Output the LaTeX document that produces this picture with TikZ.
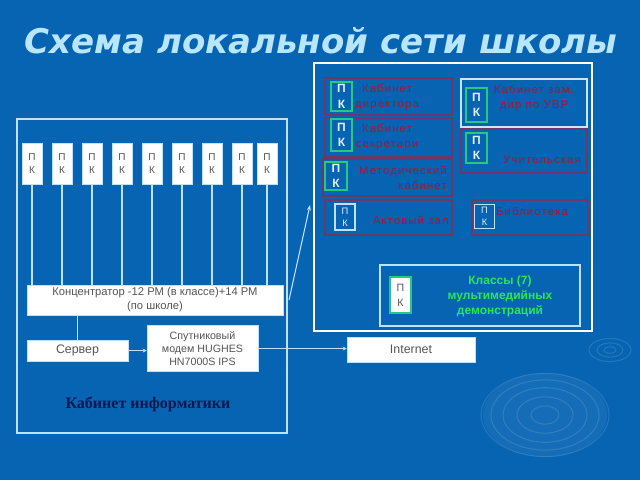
\documentclass[tikz,border=0pt]{standalone}
\usepackage{fontspec}
\setmainfont{Liberation Sans}
\newfontfamily\titlefont{DejaVu Sans}
\newfontfamily\roomfont[LetterSpace=10]{Liberation Sans}
\newfontfamily\serifbold{Liberation Serif}
\usetikzlibrary{positioning,arrows.meta}

\definecolor{bgblue}{RGB}{6,100,178}
\definecolor{titleblue}{RGB}{185,230,255}
\definecolor{wireblue}{RGB}{190,225,255}
\definecolor{textgray}{RGB}{85,85,85}
\definecolor{roomline}{RGB}{110,55,105}
\definecolor{roomred}{RGB}{155,25,60}
\definecolor{pcgreen}{RGB}{40,200,130}
\definecolor{pctext}{RGB}{225,240,255}
\definecolor{classgreen}{RGB}{40,230,90}
\definecolor{navy}{RGB}{10,25,80}

\tikzset{
  sz/.style 2 args={minimum width=#1*0.75pt, minimum height=#2*0.75pt},
  wire/.style={draw=wireblue, line width=0.8pt},
  pcbox/.style={draw=wireblue, fill=white, text=textgray, inner sep=0pt, align=center,
    font=\fontsize{7.5}{10}\selectfont},
  whitebox/.style={draw=wireblue, fill=white, text=textgray, inner sep=0pt, align=center,
    font=\fontsize{8}{10}\selectfont},
  room/.style={draw=roomline, line width=0.8pt, inner sep=0pt},
  roompc/.style={draw=pcgreen, line width=0.9pt, inner sep=0pt, align=center, text=pctext,
    font=\fontsize{9}{11.5}\selectfont\bfseries},
  roomtext/.style={text=roomred, inner sep=0pt, font=\roomfont\fontsize{8.5}{11.5}\selectfont},
  ripple/.style={white, opacity=0.12, line width=0.8pt},
}

\begin{document}
\begin{tikzpicture}[x=0.75pt,y=-0.75pt]
  \useasboundingbox (0,0) rectangle (640,480);

  % --- фон ---
  \fill[bgblue] (0,0) rectangle (640,480);
  \begin{scope}
    \clip (0,0) rectangle (640,480);
    \fill[white, opacity=0.06] (545,415) ellipse (62 and 42);
    \foreach \r in {14,28,42,54,64} {
      \draw[ripple] (545,415) ellipse ({\r} and {\r*0.65});
    }
    \foreach \r in {6,13,21} {
      \draw[ripple] (610,350) ellipse ({\r} and {\r*0.55});
    }
  \end{scope}

  % --- заголовок ---
  \node[text=titleblue, font=\titlefont\fontsize{25.5}{30}\selectfont\bfseries\itshape]
    (title) at (321,41) {Схема локальной сети школы};

  % --- кабинет информатики ---
  \node[draw=wireblue, line width=0.9pt, sz={270}{314}] (inf) at (152,276) {};
  \foreach \x [count=\i] in {32,62,92,122,152,182,212,242,267} {
    \node[pcbox, sz={20}{41}] (pc\i) at (\x,163.5) {П\\К};
  }
  \node[whitebox, sz={256}{30}, font=\fontsize{8.4}{10.5}\selectfont] (hub) at (155,300)
    {Концентратор -12 РМ (в классе)+14 РМ\\(по школе)};
  \foreach \i in {1,...,9} {
    \draw[wire] (pc\i.south) -- (pc\i.south |- hub.north);
  }
  \node[whitebox, sz={101}{21}, font=\fontsize{9.3}{10}\selectfont] (server) at (77.5,350.5) {Сервер};
  \node[whitebox, sz={111}{46}] (modem) at (202.5,348.5)
    {Спутниковый\\модем HUGHES\\HN7000S IPS};
  \node[whitebox, sz={128}{25}, font=\fontsize{9.3}{10}\selectfont] (inet) at (411,349.5) {Internet};
  \draw[wire] (server.north |- hub.south) -- (server.north);
  \draw[wire, -{Stealth[length=3pt,width=3pt]}] (server.east) -- (server.east -| modem.west);
  \draw[wire, -{Stealth[length=3pt,width=3pt]}] (modem.east) -- (modem.east -| inet.west);
  \node[text=navy, font=\serifbold\fontsize{12}{14}\selectfont\bfseries] (infname) at (148,404)
    {Кабинет информатики};

  % связь с остальной школой
  \coordinate (linkA) at (289,300);
  \coordinate (linkB) at (310,205);
  \draw[wire, -{Stealth[length=4pt,width=3pt]}] (linkA) -- (linkB);

  % --- остальные кабинеты ---
  \node[draw=white, line width=1.6pt, sz={278}{268}] (school) at (453,197) {};

  \node[room, sz={127}{37}] (dir) at (388.5,96.5) {};
  \node[roompc, sz={21}{29}] (dirpc) at (341.5,96.5) {П\\К};
  \node[roomtext, align=center] at (387,97) {Кабинет\\директора};

  \node[room, sz={127}{39}] (sec) at (388.5,137.5) {};
  \node[roompc, sz={21}{32}] (secpc) at (341.5,135) {П\\К};
  \node[roomtext, align=center] at (387,137) {Кабинет\\секретари};

  \node[room, sz={129}{37}] (met) at (387.5,177.5) {};
  \node[roompc, sz={22}{28}] (metpc) at (336,176) {П\\К};
  \node[roomtext, align=right, anchor=east] at (447,178) {Методический\\кабинет};

  \node[room, sz={127}{35}] (akt) at (388.5,217.5) {};
  \node[roompc, draw=wireblue, font=\fontsize{7}{9}\selectfont, sz={20}{26}] (aktpc) at (345,217) {П\\К};
  \node[roomtext, anchor=east] at (449,220) {Актовый зал};

  \node[room, sz={116}{35}] (lib) at (530,217.5) {};
  \node[roompc, draw=wireblue, font=\fontsize{7}{9}\selectfont, sz={20}{24}] (libpc) at (484.5,216.5) {П\\К};
  \node[roomtext] at (532,211) {Библиотека};

  \node[room, draw=wireblue!80, line width=0.9pt, sz={126}{48}] (zam) at (524,103) {};
  \node[roompc, sz={21}{34}] (zampc) at (476.5,105) {П\\К};
  \node[roomtext, align=center] at (534,98) {Кабинет зам.\\дир по УВР};

  \node[room, sz={126}{44}] (tch) at (524,151) {};
  \node[roompc, sz={21}{30}] (tchpc) at (476.5,148) {П\\К};
  \node[roomtext] at (542,160) {Учительская};

  \node[room, draw=wireblue, line width=0.9pt, sz={200}{61}] (cls) at (480,295.5) {};
  \node[pcbox, draw=pcgreen, line width=0.9pt, font=\fontsize{8}{11}\selectfont, sz={21}{36}] (clspc) at (400.5,295) {П\\К};
  \node[text=classgreen, align=center, inner sep=0pt, font=\fontsize{9}{11}\selectfont\bfseries]
    at (500,296.5) {Классы (7)\\мультимедийных\\демонстраций};

\end{tikzpicture}
\end{document}
